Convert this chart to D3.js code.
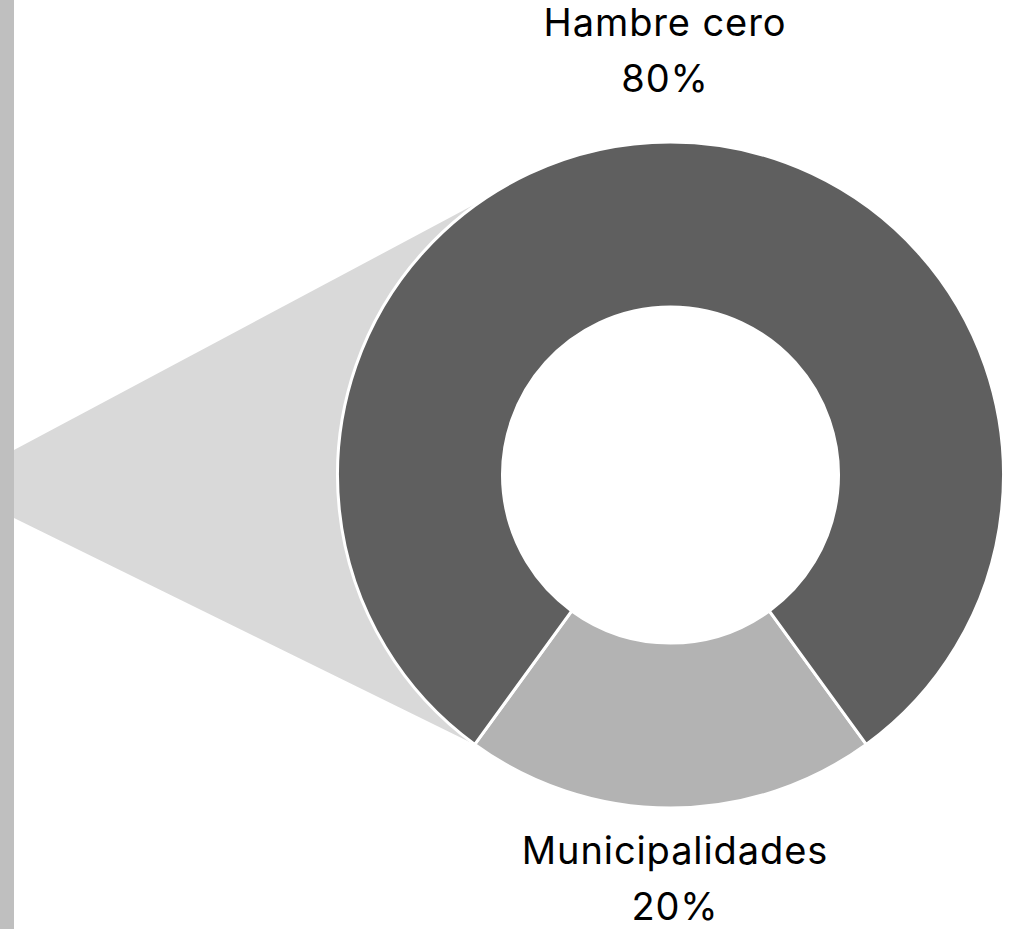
<!DOCTYPE html>
<html>
<head>
<meta charset="utf-8">
<script src="https://cdn.jsdelivr.net/npm/d3@7"></script>
<style>
  body { margin: 0; background: #fff; }
  svg { display: block; }
</style>
</head>
<body>
<script>
// donut of two shares, with a grey callout wedge coming in from the left bar

var categories = ["Municipalidades", "Hambre cero"]
var shares = [20, 80]
var shareLabels = ["20%", "80%"]

var screen = {width: 1010, height: 929}
var center = {x: 670.5, y: 475}
var outerR = 333
var innerR = 168

var colors = d3.scaleOrdinal()
    .domain(categories)
    .range(["#b3b3b3", "#5f5f5f"])

var svg = d3.select("body")
    .append("svg")
    .attr("width", screen.width)
    .attr("height", screen.height)

// grey bar on the left edge
svg.append("rect")
    .attr("x", 0)
    .attr("y", 0)
    .attr("width", 14)
    .attr("height", screen.height)
    .attr("fill", "#bfbfbf")

var pie = d3.pie()
    .sort(null)
    .value(function(d) { return d })
    .startAngle(144 * Math.PI / 180)
    .endAngle(504 * Math.PI / 180)

var arcs = pie(shares)

var arc = d3.arc()
    .innerRadius(innerR)
    .outerRadius(outerR)

// point on the outer edge at a given pie angle
var edgePoint = function(a)
{
    return [center.x + outerR * Math.sin(a), center.y - outerR * Math.cos(a)]
}

// callout wedge: from the bar to the edge of the small slice and up around the ring
// (chord between the two points stays outside the hole)
var bottomPt = edgePoint(arcs[0].endAngle)
var topPt = edgePoint(325.5 * Math.PI / 180)

svg.append("path")
    .attr("d", "M14,450 L" + topPt[0] + "," + topPt[1] +
               " L" + bottomPt[0] + "," + bottomPt[1] +
               " L14,518 Z")
    .attr("fill", "#d9d9d9")

svg.append("g")
    .attr("id", "donut")
    .attr("transform", "translate(" + center.x + "," + center.y + ")")
    .selectAll("path")
    .data(arcs)
    .enter()
    .append("path")
    .attr("d", arc)
    .attr("fill", function(d, i) { return colors(categories[i]) })
    .attr("stroke", "#fff")
    .attr("stroke-width", 3)
    .attr("stroke-linejoin", "round")

// labels: name on one line, share below
var labelPos = [
    {x: 675, y: 864},
    {x: 665, y: 36}
]

var labels = svg.append("g")
    .attr("font-family", "Inter, 'Liberation Sans', sans-serif")
    .attr("font-size", 38)
    .attr("letter-spacing", 0.9)
    .attr("fill", "#000")
    .attr("text-anchor", "middle")

categories.forEach(function(name, i)
{
    var t = labels.append("text")
        .attr("x", labelPos[i].x)
        .attr("y", labelPos[i].y)
    t.append("tspan")
        .attr("x", labelPos[i].x)
        .text(name)
    t.append("tspan")
        .attr("x", labelPos[i].x)
        .attr("dy", 56)
        .text(shareLabels[i])
})
</script>
</body>
</html>
